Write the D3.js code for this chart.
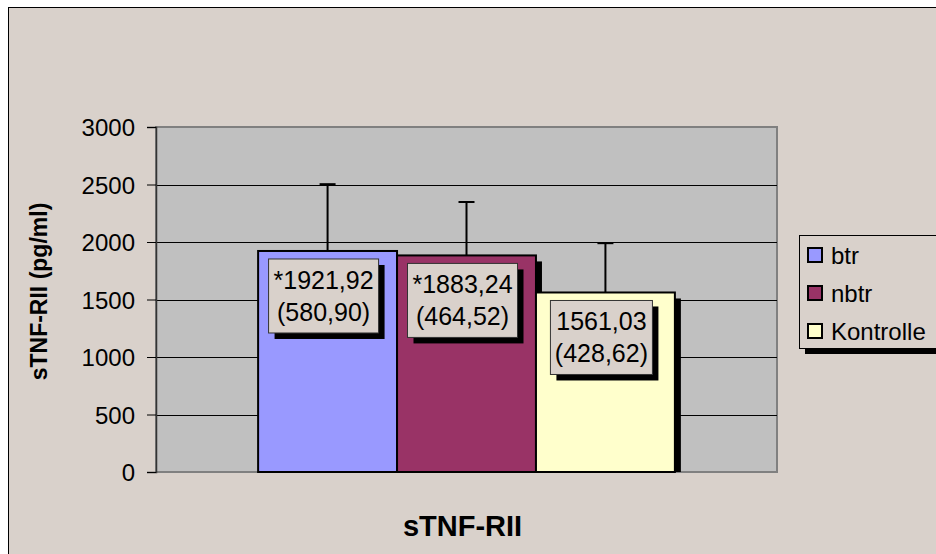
<!DOCTYPE html>
<html>
<head>
<meta charset="utf-8">
<script src="https://cdn.jsdelivr.net/npm/d3@7"></script>
<style>
  body { margin: 0; background: #fff; }
  svg text { font-family: "Liberation Sans", Arial, sans-serif; fill: #000; }
</style>
</head>
<body>
<div class="chart"></div>
<script>
(function(){
    const svgWidth = 936, svgHeight = 554;

    // Data
    const category = ["sTNF-RII"];
    const series = ["btr", "nbtr", "Kontrolle"];
    const means = [1921.92, 1883.24, 1561.03];
    const sds = [580.90, 464.52, 428.62];
    const meanLabels = ["*1921,92", "*1883,24", "1561,03"];
    const sdLabels = ["(580,90)", "(464,52)", "(428,62)"];
    const colors = ["#9999FF", "#993366", "#FFFFCC"];
    const yTicks = [0, 500, 1000, 1500, 2000, 2500, 3000];

    const plot = { left: 156, right: 777, top: 127, bottom: 472 };
    const bg = "#D9D1CB";

    const svg = d3.select(".chart")
        .append("svg")
        .attr("width", svgWidth)
        .attr("height", svgHeight);

    // chart area
    svg.append("rect")
        .attr("x", 8.5).attr("y", 7.5)
        .attr("width", 940).attr("height", 560)
        .attr("fill", bg)
        .attr("stroke", "#000").attr("stroke-width", 1);

    // scales
    const x0 = d3.scaleBand()
        .domain(category)
        .range([plot.left, plot.right])
        .paddingInner(0).paddingOuter(0.245);

    const x1 = d3.scaleBand()
        .domain(series)
        .range([0, x0.bandwidth()]);

    const y = d3.scaleLinear()
        .domain([0, 3000])
        .range([plot.bottom, plot.top]);

    // plot area
    svg.append("rect")
        .attr("x", plot.left).attr("y", plot.top)
        .attr("width", plot.right - plot.left).attr("height", plot.bottom - plot.top)
        .attr("fill", "#C0C0C0")
        .attr("stroke", "#808080").attr("stroke-width", 2);

    // gridlines
    svg.append("g")
        .selectAll("line")
        .data(yTicks.filter(d => d > 0 && d < 3000))
        .enter().append("line")
        .attr("x1", plot.left).attr("x2", plot.right)
        .attr("y1", d => Math.round(y(d)) + 0.5).attr("y2", d => Math.round(y(d)) + 0.5)
        .attr("stroke", "#000").attr("stroke-width", 1);

    // y axis
    const yAxis = d3.axisLeft(y).tickValues(yTicks).tickSize(9).tickPadding(12)
        .tickFormat(d3.format("d"));
    const ag = svg.append("g")
        .attr("transform", `translate(${plot.left}, 0)`)
        .call(yAxis);
    ag.select(".domain").attr("stroke", "#333").attr("stroke-width", 1.5);
    ag.selectAll(".tick line").attr("stroke", "#000");
    ag.selectAll(".tick text")
        .style("font-family", "'Liberation Sans', Arial, sans-serif")
        .style("font-size", "24px").attr("dy", "0.36em");

    const barGroup = svg.append("g")
        .attr("transform", `translate(${x0(category[0])}, 0)`);

    const bars = series.map((s, i) => ({ s, i, v: means[i], sd: sds[i] }));

    // shadows
    barGroup.selectAll("rect.shadow")
        .data(bars)
        .enter().append("rect")
        .attr("class", "shadow")
        .attr("x", d => x1(d.s) + 6)
        .attr("y", d => y(d.v) + 6)
        .attr("width", x1.bandwidth())
        .attr("height", d => plot.bottom - y(d.v) - 6)
        .attr("fill", "#000");

    barGroup.selectAll("rect.bar")
        .data(bars)
        .enter().append("rect")
        .attr("class", "bar")
        .attr("x", d => x1(d.s))
        .attr("y", d => y(d.v))
        .attr("width", x1.bandwidth())
        .attr("height", d => plot.bottom - y(d.v))
        .attr("fill", d => colors[d.i])
        .attr("stroke", "#000").attr("stroke-width", 2);

    // error bars (upper only)
    barGroup.selectAll("line.err")
        .data(bars)
        .enter().append("line")
        .attr("x1", d => x1(d.s) + x1.bandwidth() / 2)
        .attr("x2", d => x1(d.s) + x1.bandwidth() / 2)
        .attr("y1", d => y(d.v))
        .attr("y2", d => y(d.v + d.sd))
        .attr("stroke", "#000").attr("stroke-width", 2);

    barGroup.selectAll("line.cap")
        .data(bars)
        .enter().append("line")
        .attr("x1", d => x1(d.s) + x1.bandwidth() / 2 - 8)
        .attr("x2", d => x1(d.s) + x1.bandwidth() / 2 + 8)
        .attr("y1", d => y(d.v + d.sd))
        .attr("y2", d => y(d.v + d.sd))
        .attr("stroke", "#000").attr("stroke-width", 2);

    // data labels
    const lab = barGroup.selectAll("g.lab")
        .data(bars)
        .enter().append("g")
        .attr("class", "lab")
        .attr("transform", d => `translate(${x1(d.s) + x1.bandwidth() / 2 - 4}, ${y(d.v) + 8})`);

    const boxW = d => d.i === 2 ? 102 : 110;
    lab.append("rect")
        .attr("x", d => -boxW(d) / 2 + 6).attr("y", 6)
        .attr("width", boxW).attr("height", 74)
        .attr("fill", "#000");
    lab.append("rect")
        .attr("x", d => -boxW(d) / 2).attr("y", 0)
        .attr("width", boxW).attr("height", 74)
        .attr("fill", bg)
        .attr("stroke", "#333").attr("stroke-width", 1);
    lab.append("text")
        .attr("text-anchor", "middle")
        .attr("y", 30)
        .style("font-size", "25px")
        .text(d => meanLabels[d.i]);
    lab.append("text")
        .attr("text-anchor", "middle")
        .attr("y", 62)
        .style("font-size", "25px")
        .text(d => sdLabels[d.i]);

    // legend
    const lg = svg.append("g").attr("transform", "translate(799, 235)");
    lg.append("rect")
        .attr("x", 6).attr("y", 6).attr("width", 200).attr("height", 113)
        .attr("fill", "#000");
    lg.append("rect")
        .attr("x", 0.5).attr("y", 0.5).attr("width", 200).attr("height", 113)
        .attr("fill", bg).attr("stroke", "#000").attr("stroke-width", 1);

    const li = lg.selectAll("g.item")
        .data(series)
        .enter().append("g")
        .attr("transform", (d, i) => `translate(9, ${13 + i * 38})`);
    li.append("rect")
        .attr("width", 14).attr("height", 14)
        .attr("fill", (d, i) => colors[i])
        .attr("stroke", "#000").attr("stroke-width", 2);
    li.append("text")
        .attr("x", 23).attr("y", 16)
        .style("font-size", "24px")
        .text(d => d);

    // axis labels
    svg.append("text")
        .attr("transform", `translate(47, ${(plot.top + plot.bottom) / 2 - 8}) rotate(-90)`)
        .attr("text-anchor", "middle")
        .style("font-size", "23px").style("font-weight", "bold")
        .text("sTNF-RII (pg/ml)");

    svg.append("text")
        .attr("x", x0(category[0]) + x0.bandwidth() / 2 - 4)
        .attr("y", 536)
        .attr("text-anchor", "middle")
        .style("font-size", "29px").style("font-weight", "bold")
        .text(category[0]);
})()
</script>
</body>
</html>
